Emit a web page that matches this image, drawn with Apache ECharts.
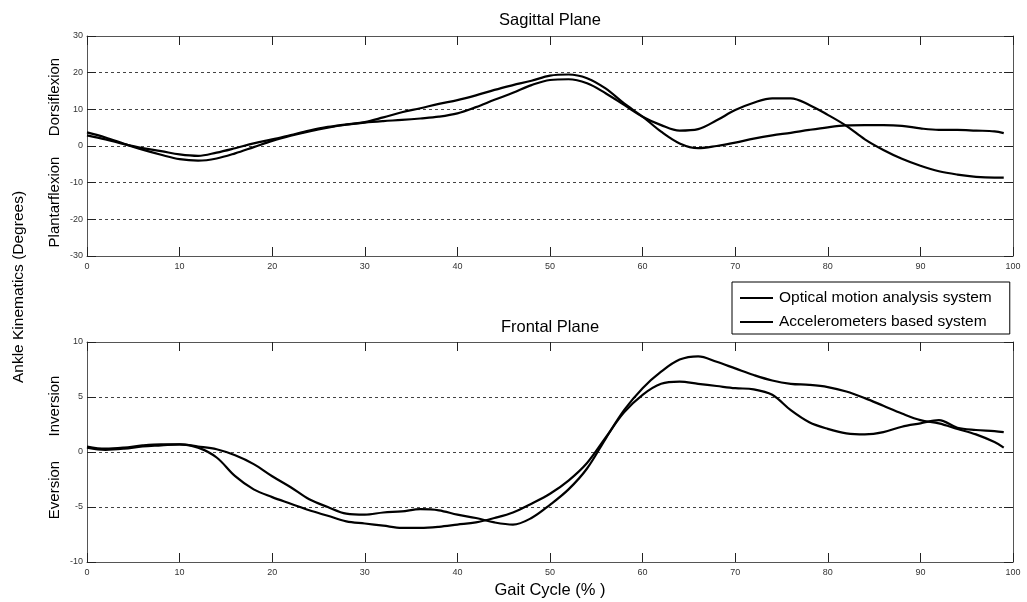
<!DOCTYPE html>
<html>
<head>
<meta charset="utf-8">
<script src="https://cdn.jsdelivr.net/npm/echarts@6/dist/echarts.min.js"></script>
<style>html,body{margin:0;padding:0;background:#fff}#c{width:1027px;height:602px}</style>
</head>
<body>
<div id="c"></div>
<script>
// Gait cycle (%) sample positions
const gait = [0,2,4,6,8,10,12,14,16,18,20,22,24,26,28,30,32,34,36,38,40,42,44,46,48,50,52,54,56,58,60,62,64,66,68,70,72,74,76,78,80,82,84,86,88,90,92,94,96,98,99];

// Sagittal plane (degrees)
const sagOptical = [3.7,2.3,0.6,-1.0,-2.4,-3.6,-4.0,-3.4,-2.0,-0.3,1.4,2.8,4.0,5.0,5.8,6.4,6.8,7.1,7.5,8.0,8.9,10.6,12.6,14.5,16.6,18.0,18.2,17.1,14.4,11.2,8.0,5.7,4.2,4.6,7.0,9.8,11.8,13.0,13.0,11.2,8.5,5.5,1.8,-1.1,-3.5,-5.4,-6.9,-7.8,-8.4,-8.6,-8.6];
const sagAccel = [2.9,1.8,0.5,-0.6,-1.4,-2.3,-2.7,-1.8,-0.6,0.7,1.8,3.0,4.2,5.2,5.9,6.5,7.8,9.2,10.3,11.5,12.5,13.8,15.3,16.6,17.8,19.2,19.5,18.5,15.7,11.6,8.0,3.9,0.7,-0.6,0.0,0.9,2.0,2.9,3.6,4.4,5.1,5.6,5.7,5.7,5.5,4.8,4.4,4.4,4.2,4.0,3.5];

// Frontal plane (degrees)
const frontOptical = [0.5,0.3,0.4,0.6,0.7,0.7,0.5,0.25,-0.3,-1.1,-2.2,-3.2,-4.3,-5.0,-5.6,-5.7,-5.5,-5.4,-5.2,-5.3,-5.7,-6.0,-6.4,-6.6,-6.0,-4.8,-3.4,-1.5,1.2,3.8,5.8,7.3,8.4,8.7,8.2,7.6,7.0,6.5,6.2,6.1,5.9,5.5,4.9,4.2,3.5,2.9,2.6,2.1,1.6,0.9,0.4];
const frontAccel = [0.4,0.2,0.3,0.5,0.6,0.7,0.4,-0.5,-2.2,-3.4,-4.1,-4.7,-5.3,-5.8,-6.3,-6.5,-6.7,-6.9,-6.9,-6.8,-6.6,-6.4,-6.0,-5.5,-4.7,-3.8,-2.6,-1.0,1.3,3.6,5.2,6.2,6.4,6.2,6.0,5.8,5.7,5.2,3.8,2.7,2.1,1.7,1.6,1.8,2.3,2.6,2.9,2.2,2.0,1.9,1.8];

const seriesNames = ['Optical motion analysis system', 'Accelerometers based system'];
const xTicks = {min: 0, max: 100, interval: 10};
const sagTicks = {min: -30, max: 30, interval: 10};
const frontTicks = {min: -10, max: 10, interval: 5};

const pair = (xs, ys) => xs.map((x, i) => [x, ys[i]]);
const axisCol = '#555';
const labelFont = {fontFamily: 'Liberation Sans, Arial, sans-serif', fontSize: 9, color: '#333'};

function xAx(grid, pos, labels) {
  return {type: 'value', gridIndex: grid, position: pos, min: xTicks.min, max: xTicks.max, interval: xTicks.interval,
    axisLine: {show: true, onZero: false, lineStyle: {color: axisCol, width: 1}},
    axisTick: {show: true, inside: true, length: 9, lineStyle: {color: '#222'}},
    axisLabel: Object.assign({show: labels, margin: 6}, labelFont),
    splitLine: {show: false}};
}
function yAx(grid, pos, t, labels) {
  return {type: 'value', gridIndex: grid, position: pos, min: t.min, max: t.max, interval: t.interval,
    axisLine: {show: true, onZero: false, lineStyle: {color: axisCol, width: 1}},
    axisTick: {show: true, inside: true, length: 9, lineStyle: {color: '#222'}},
    axisLabel: Object.assign({show: labels, margin: 4}, labelFont),
    splitLine: {show: labels, lineStyle: {color: '#444', type: [3, 3], width: 1}}};
}
const lineStyle = {color: '#000', width: 2.2};
function ser(name, xi, yi, data) {
  return {name: name, type: 'line', xAxisIndex: xi, yAxisIndex: yi, data: data, showSymbol: false, smooth: 0.35,
    lineStyle: lineStyle, itemStyle: {color: '#000'}, animation: false, z: 5};
}
const txt = (text, x, y, size, rot) => ({type: 'text', x: x, y: y, rotation: rot || 0,
  style: {text: text, fill: '#000', font: size + 'px "Liberation Sans", Arial, sans-serif', align: 'center', verticalAlign: 'middle'}});

const chart = echarts.init(document.getElementById('c'), null, {renderer: 'canvas'});
chart.setOption({
  animation: false,
  backgroundColor: '#fff',
  grid: [
    {left: 87, top: 36, width: 926, height: 220, show: false},
    {left: 87, top: 342, width: 926, height: 220, show: false}
  ],
  xAxis: [xAx(0, 'bottom', true), xAx(0, 'top', false), xAx(1, 'bottom', true), xAx(1, 'top', false)],
  yAxis: [yAx(0, 'left', sagTicks, true), yAx(0, 'right', sagTicks, false), yAx(1, 'left', frontTicks, true), yAx(1, 'right', frontTicks, false)],
  legend: {
    left: 732, top: 282, orient: 'vertical', data: seriesNames,
    backgroundColor: '#fff', borderColor: '#000', borderWidth: 1, borderRadius: 0,
    padding: [8, 18, 4, 8], itemGap: 8, itemWidth: 33, itemHeight: 2, icon: 'rect',
    textStyle: {fontFamily: 'Liberation Sans, Arial, sans-serif', fontSize: 15.5, color: '#000', padding: [0, 0, 0, 1]},
    selectedMode: false
  },
  series: [
    ser(seriesNames[0], 0, 0, pair(gait, sagOptical)),
    ser(seriesNames[1], 0, 0, pair(gait, sagAccel)),
    ser(seriesNames[0], 2, 2, pair(gait, frontOptical)),
    ser(seriesNames[1], 2, 2, pair(gait, frontAccel))
  ],
  graphic: [
    txt('Sagittal Plane', 550, 20, 16.5),
    txt('Frontal Plane', 550, 327, 16.5),
    txt('Gait Cycle (% )', 550, 590, 16.5),
    txt('Ankle Kinematics (Degrees)', 19, 287, 15.5, Math.PI / 2),
    txt('Dorsiflexion', 55, 97, 15, Math.PI / 2),
    txt('Plantarflexion', 55, 202, 15, Math.PI / 2),
    txt('Inversion', 55, 406, 15, Math.PI / 2),
    txt('Eversion', 55, 490, 15, Math.PI / 2)
  ]
});
</script>
</body>
</html>
